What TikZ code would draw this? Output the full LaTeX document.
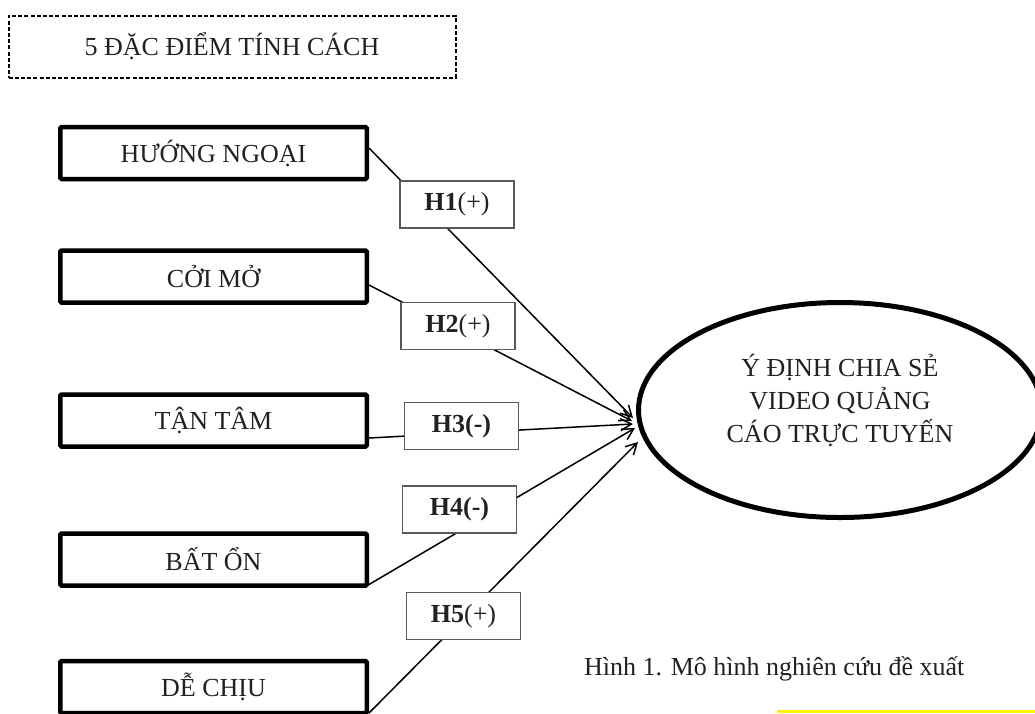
\documentclass[tikz,border=0pt]{standalone}
\usepackage{fontspec}
\setmainfont{Liberation Serif}
\usetikzlibrary{arrows.meta,shapes.geometric,calc}
\definecolor{ink}{gray}{0.13}
\definecolor{hline}{gray}{0.35}
\begin{document}
\begin{tikzpicture}[x=1pt,y=-1pt,
  every node/.style={font=\fontsize{26}{33}\selectfont, text=ink},
  trait/.style={draw=black, line width=4.5pt, rounded corners=1.2pt, fill=white,
    minimum width=306.5pt, minimum height=52pt, inner sep=0pt},
  hyp/.style={draw=hline, line width=1.2pt, fill=white,
    minimum width=114pt, minimum height=47pt, inner sep=0pt},
  link/.style={draw=black, line width=1.5pt,
    -{Straight Barb[length=11pt,width=12pt,line width=1.5pt]}},
]
\useasboundingbox (0,0) rectangle (1035,713);
\clip (0,0) rectangle (1035,713);

% group header
\node[draw=black, line width=2pt, dash pattern=on 4pt off 2.2pt,
      minimum width=447pt, minimum height=62pt, inner sep=0pt] (grp) at (232,46.5)
      {5 ĐẶC ĐIỂM TÍNH CÁCH};

% the five personality traits
\node[trait] (hn) at (213.5,153)   {HƯỚNG NGOẠI};
\node[trait] (cm) at (213.5,276.5) {CỞI MỞ};
\node[trait] (tt) at (213.5,420.5) {TẬN TÂM};
\node[trait] (bo) at (213.5,559.5) {BẤT ỔN};
\node[trait] (dc) at (213.5,687)   {DỄ CHỊU};

% outcome
\node[draw=black, line width=5pt, ellipse, minimum width=403pt,
      minimum height=215pt, inner sep=0pt] (el) at (840,410) {};
\node[align=center] (elt) at (840,400)
      {Ý ĐỊNH CHIA SẺ\\VIDEO QUẢNG\\CÁO TRỰC TUYẾN};

% arrow ends on the ellipse
\coordinate (t1) at (633,418);
\coordinate (t2) at (632,421);
\coordinate (t3) at (633,424);
\coordinate (t4) at (635,428);
\coordinate (t5) at (638,442);

% paths from each trait to the outcome
\draw[link] ($(hn.east)+(0,-5)$)   -- (t1);
\draw[link] ($(cm.east)+(0,8.5)$)  -- (t2);
\draw[link] ($(tt.east)+(0,17.5)$) -- (t3);
\draw[link] ($(bo.east)+(0,25)$)   -- (t4);
\draw[link] ($(dc.east)+(0,26)$)   -- (t5);

% hypothesis labels sitting on the paths
\node[hyp] (h1) at (457,204.5)   {\textbf{H1}(+)};
\node[hyp] (h2) at (458,326)     {\textbf{H2}(+)};
\node[hyp] (h3) at (461.5,426)   {\textbf{H3(-)}};
\node[hyp] (h4) at (459.5,509.5) {\textbf{H4(-)}};
\node[hyp] (h5) at (463.5,616)   {\textbf{H5}(+)};

% caption
\node[anchor=base west, inner sep=0pt] (cap) at (584,675)
      {Hình 1. Mô hình nghiên cứu đề xuất};

% highlighted strip at the page foot
\fill[yellow] (777,710) rectangle (1035,713);
\end{tikzpicture}
\end{document}
